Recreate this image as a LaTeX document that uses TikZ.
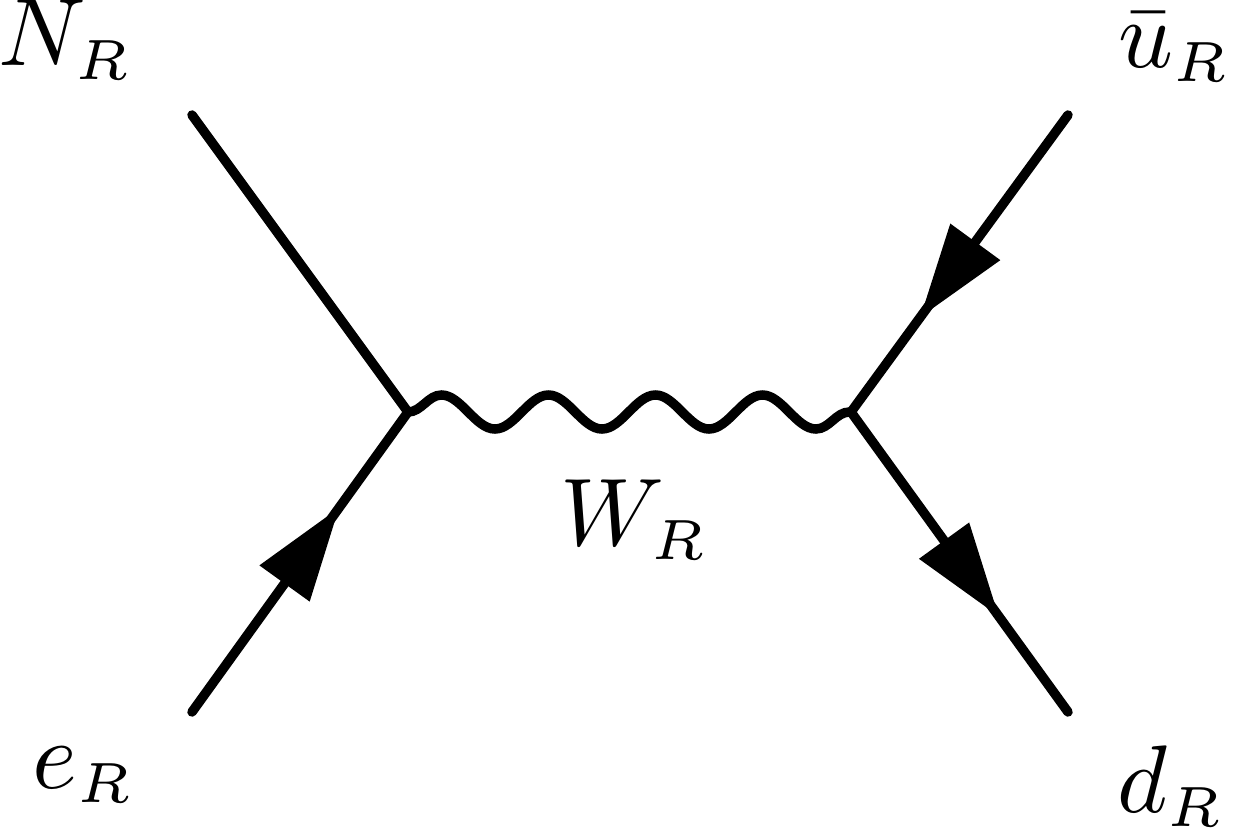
\RequirePackage{fix-cm}
\documentclass[tikz,border=0pt]{standalone}
\usetikzlibrary{decorations.pathmorphing,decorations.markings,arrows.meta}
\DeclareMathSizes{11}{11}{6.5}{5}
\tikzset{
  plainline/.style={line width=9.5pt, line cap=round},
  fermion/.style={line width=9.5pt, line cap=round, postaction={decorate},
    decoration={markings, mark=at position 0.68 with {\arrow{Triangle[length=93pt,width=62pt,line width=0pt]}}}},
  boson/.style={line width=9.5pt, decorate,
    decoration={snake, segment length=107pt, amplitude=17pt}},
  lbl/.style={anchor=base west, inner sep=0pt, scale=8.73, font=\fontsize{11}{13}\selectfont}
}
\begin{document}
\begin{tikzpicture}[x=1pt,y=-1pt]
\useasboundingbox (0,0) rectangle (1233,833);
\coordinate (L) at (408,412);
\coordinate (R) at (851,412);
\coordinate (NL) at (192,115);
\coordinate (EL) at (192,712);
\coordinate (UR) at (1068,115);
\coordinate (DR) at (1068,712);
\draw[plainline] (NL) -- (L);
\draw[fermion] (EL) -- (L);
\draw[fermion] (UR) -- (R);
\draw[fermion] (R) -- (DR);
\draw[boson] (L) -- (R);
\node[lbl] (nr) at (-3,65) {$N_R$};
\node[lbl] (ur) at (1117,67) {$\bar u_R$};
\node[lbl] (er) at (31,788) {$e_R$};
\node[lbl] (dr) at (1116,812) {$d_R$};
\node[lbl] (wr) at (559,545) {$W_R$};
\end{tikzpicture}
\end{document}
